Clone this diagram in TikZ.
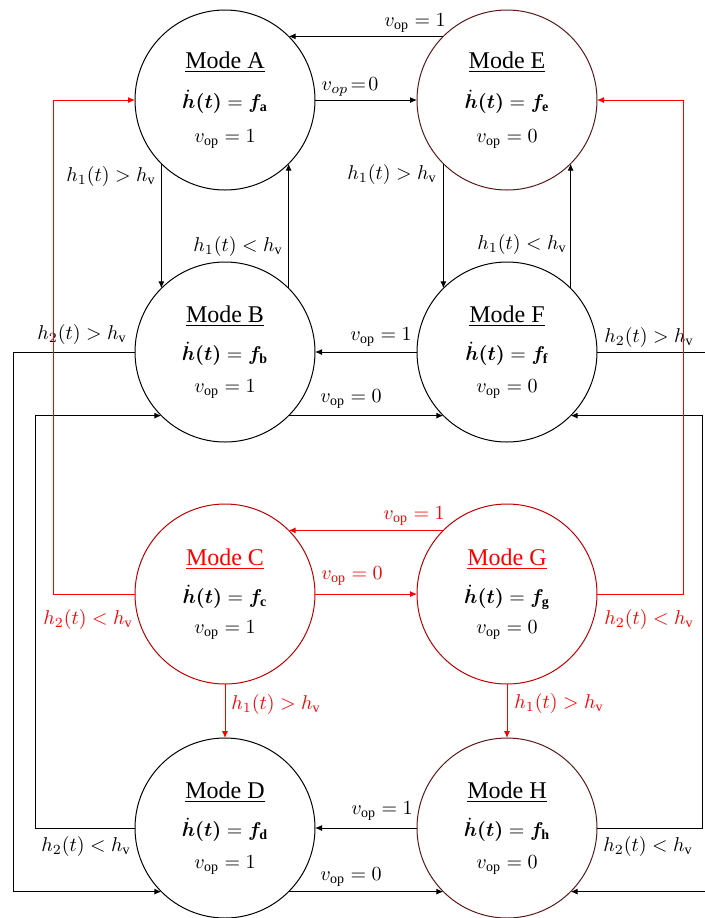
\documentclass[tikz,border=0pt]{standalone}
\usepackage{amsmath,bm}
\usepackage{fontspec}
\setmainfont{Liberation Serif}
\usetikzlibrary{arrows.meta}
\definecolor{swred}{HTML}{FF0000}
\definecolor{swring}{HTML}{C00000}
\definecolor{swbrown}{HTML}{5A1A1A}

\begin{document}
\begin{tikzpicture}[x=0.5pt, y=-0.5pt, line width=0.5pt,
    mode/.style={draw, circle, minimum size=90pt, inner sep=0pt, outer sep=0pt, align=center},
    flow/.style={-{Latex[length=3.5pt,width=3pt]}},
    alt/.style={flow, swred}]
      \clip (0,0) rectangle (705,918);
      % modes
      \node[mode] (mA) at (225,100) {{\large\underline{Mode A}}\\[8pt] $\bm{\dot h(t)}=\bm{f}_{\mathbf{a}}$\\[5pt] $v_{\mathrm{op}}=1$};
      \node[mode, draw=swbrown] (mE) at (507,100) {{\large\underline{Mode E}}\\[8pt] $\bm{\dot h(t)}=\bm{f}_{\mathbf{e}}$\\[5pt] $v_{\mathrm{op}}=0$};
      \node[mode] (mB) at (225,352) {{\large\underline{Mode B}}\\[7pt] $\bm{\dot h(t)}=\bm{f}_{\mathbf{b}}$\\[4pt] $v_{\mathrm{op}}=1$};
      \node[mode] (mF) at (507,352) {{\large\underline{Mode F}}\\[7pt] $\bm{\dot h(t)}=\bm{f}_{\mathbf{f}}$\\[4pt] $v_{\mathrm{op}}=0$};
      \node[mode, draw=swring] (mC) at (225,594) {{\large\color{swred}\underline{Mode C}}\\[7pt] $\bm{\dot h(t)}=\bm{f}_{\mathbf{c}}$\\[3pt] $v_{\mathrm{op}}=1$};
      \node[mode, draw=swring] (mG) at (507,594) {{\large\color{swred}\underline{Mode G}}\\[7pt] $\bm{\dot h(t)}=\bm{f}_{\mathbf{g}}$\\[3pt] $v_{\mathrm{op}}=0$};
      \node[mode] (mD) at (225,828) {{\large\underline{Mode D}}\\[7pt] $\bm{\dot h(t)}=\bm{f}_{\mathbf{d}}$\\[4pt] $v_{\mathrm{op}}=1$};
      \node[mode, draw=swbrown] (mH) at (507,828) {{\large\underline{Mode H}}\\[7pt] $\bm{\dot h(t)}=\bm{f}_{\mathbf{h}}$\\[4pt] $v_{\mathrm{op}}=0$};
      % black transitions
      \draw[flow] (mE.135) -- (mA.45);
      \draw[flow] (mA.east) -- (mE.west);
      \draw[flow] (mA.225) -- (mB.135);
      \draw[flow] (mB.45) -- (mA.-45);
      \draw[flow] (mE.225) -- (mF.135);
      \draw[flow] (mF.45) -- (mE.-45);
      \draw[flow] (mF.west) -- (mB.east);
      \draw[flow] (mB.-45) -- (mF.-135);
      \draw[flow] (mB.west) -- ++(-122,0) |- (mD.-135);
      \draw[flow] (mD.west) -- ++(-100,0) |- (mB.-135);
      \draw[flow] (mF.east) -- ++(112,0) |- (mH.-45);
      \draw[flow] (mH.east) -- ++(105,0) |- (mF.-45);
      \draw[flow] (mH.west) -- (mD.east);
      \draw[flow] (mD.-45) -- (mH.-135);
      % labels
      \node (lEA) at (415,23) {$v_{\mathrm{op}}=1$};
      \node (lAE) at (350,87) {$v_{op}\!=\!0$};
      \node (lAB) at (111,176) {$h_1(t)>h_{\mathrm{v}}$};
      \node (lBA) at (238,246) {$h_1(t)<h_{\mathrm{v}}$};
      \node (lEF) at (392,174) {$h_1(t)>h_{\mathrm{v}}$};
      \node (lFE) at (522,244) {$h_1(t)<h_{\mathrm{v}}$};
      \node (lFB) at (381,337) {$v_{\mathrm{op}}=1$};
      \node (lBF) at (351,399) {$v_{\mathrm{op}}=0$};
      \node (lBD) at (82,334) {$h_2(t)>h_{\mathrm{v}}$};
      \node (lFH) at (649,337) {$h_2(t)>h_{\mathrm{v}}$};
      \node (lHD) at (382,811) {$v_{\mathrm{op}}=1$};
      \node (lDH) at (351,877) {$v_{\mathrm{op}}=0$};
      \node (lDB) at (86,846) {$h_2(t)<h_{\mathrm{v}}$};
      \node (lHF) at (648,846) {$h_2(t)<h_{\mathrm{v}}$};
      \node[text=swred] (lGC) at (414,516) {$v_{\mathrm{op}}=1$};
      \node[text=swred] (lCG) at (352,576) {$v_{\mathrm{op}}=0$};
      \node[text=swred] (lCA) at (88,619) {$h_2(t)<h_{\mathrm{v}}$};
      \node[text=swred] (lGE) at (649,619) {$h_2(t)<h_{\mathrm{v}}$};
      \node[text=swred] (lCD) at (276,704) {$h_1(t)>h_{\mathrm{v}}$};
      \node[text=swred] (lGH) at (559,703) {$h_1(t)>h_{\mathrm{v}}$};
      % red transitions
      \draw[alt] (mG.135) -- (mC.45);
      \draw[alt] (mC.east) -- (mG.west);
      \draw[alt] (mC.west) -- ++(-82,0) |- (mA.west);
      \draw[alt] (mG.east) -- ++(86,0) |- (mE.east);
      \draw[alt] (mC.south) -- (mD.north);
      \draw[alt] (mG.south) -- (mH.north);
\end{tikzpicture}
\end{document}
